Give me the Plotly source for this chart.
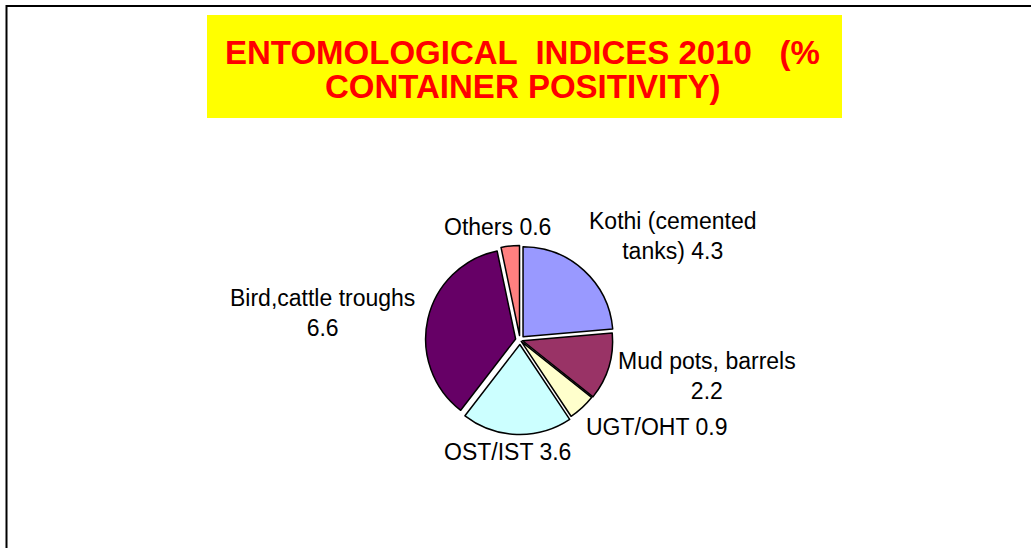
import plotly.graph_objects as go

categories = ["Kothi (cemented<br>tanks)", "Mud pots, barrels<br>", "UGT/OHT", "OST/IST", "Bird,cattle troughs<br>", "Others"]
values = [4.3, 2.2, 0.9, 3.6, 6.6, 0.6]
colors = ["#9999FF", "#993366", "#FFFFCC", "#CCFFFF", "#660066", "#FF8080"]
pulls = [0.05, 0.03, 0.02, 0.05, 0.05, 0.05]
title_lines = ["ENTOMOLOGICAL  INDICES 2010   (%", "CONTAINER POSITIVITY)"]

W, H = 1031, 548
cx, cy, r = 520, 340, 90
maxp = max(pulls)
half = r * (1 + maxp)

fig = go.Figure()
fig.add_trace(go.Pie(
    labels=categories, values=values, sort=False, direction="clockwise", rotation=0,
    marker=dict(colors=colors, line=dict(color="black", width=1.5)),
    pull=pulls, textinfo="none", hoverinfo="label+value", showlegend=False,
    domain=dict(x=[(cx - half) / W, (cx + half) / W], y=[(H - cy - half) / H, (H - cy + half) / H]),
))

# label positions (pixels) for each slice label
label_pos = [(672, 236), (707, 376), (656, 427), (507, 452), (322, 313), (497, 227)]
for cat, val, (lx, ly) in zip(categories, values, label_pos):
    if cat.endswith("<br>"):
        txt = f"{cat}{val}"
    else:
        txt = f"{cat} {val}"
    fig.add_annotation(x=lx / W, y=1 - ly / H, xref="paper", yref="paper", text=txt,
                       showarrow=False, xanchor="center", yanchor="middle", align="center",
                       font=dict(family="Liberation Sans, Arial", size=23, color="black"))

# title box
fig.add_shape(type="rect", xref="paper", yref="paper", x0=207 / W, x1=842 / W, y0=1 - 118 / H, y1=1 - 15 / H,
              fillcolor="#FFFF00", line=dict(width=0), layer="below")
for line, ty in zip(title_lines, [52, 87]):
    fig.add_annotation(x=522 / W, y=1 - ty / H, xref="paper", yref="paper",
                       text=f"<b>{line}</b>",
                       showarrow=False, xanchor="center", yanchor="middle", align="center",
                       font=dict(family="Liberation Sans, Arial", size=33, color="#FF0000"))

# border
fig.add_shape(type="rect", xref="paper", yref="paper", x0=6.5 / W, x1=1.05, y0=-0.05, y1=1 - 6 / H,
              line=dict(color="black", width=2), fillcolor="rgba(0,0,0,0)")

fig.update_layout(width=W, height=H, margin=dict(l=0, r=0, t=0, b=0),
                  paper_bgcolor="white", plot_bgcolor="white")
fig.write_html("out.html", config={"displayModeBar": False},
               post_script="document.body.style.margin='0';document.body.style.overflow='hidden';")
